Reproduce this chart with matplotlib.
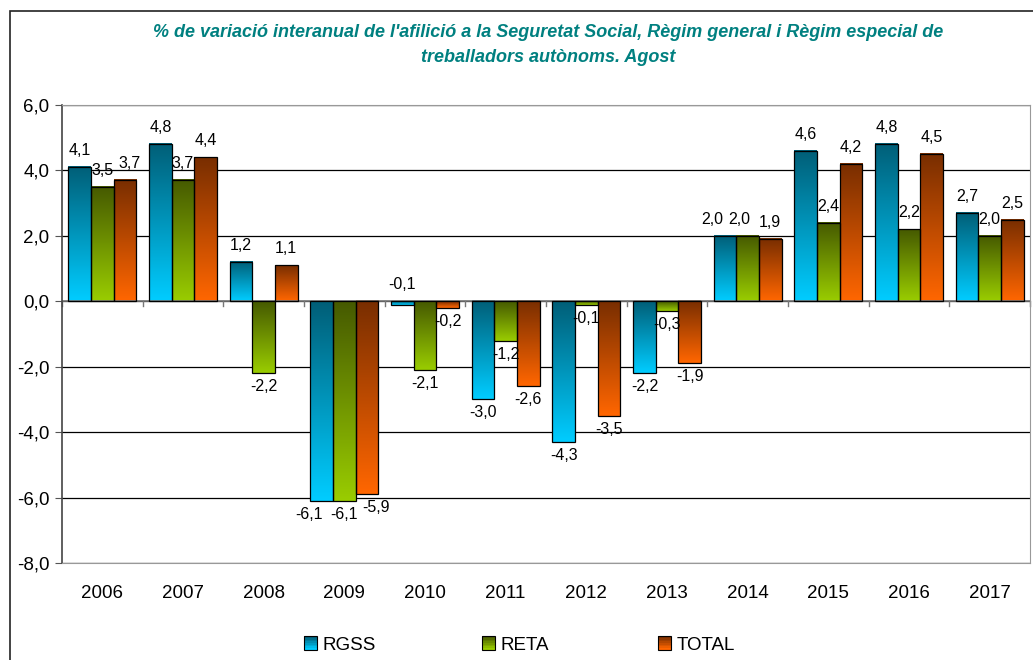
import matplotlib.pyplot as plt
import numpy as np
from matplotlib.colors import LinearSegmentedColormap
from matplotlib.legend_handler import HandlerBase
from matplotlib.patches import Rectangle

plt.rcParams["font.family"] = ["Liberation Sans", "DejaVu Sans"]

years = ["2006", "2007", "2008", "2009", "2010", "2011",
         "2012", "2013", "2014", "2015", "2016", "2017"]
rgss = [4.1, 4.8, 1.2, -6.1, -0.1, -3.0, -4.3, -2.2, 2.0, 4.6, 4.8, 2.7]
reta = [3.5, 3.7, -2.2, -6.1, -2.1, -1.2, -0.1, -0.3, 2.0, 2.4, 2.2, 2.0]
total = [3.7, 4.4, 1.1, -5.9, -0.2, -2.6, -3.5, -1.9, 1.9, 4.2, 4.5, 2.5]

series = [
    ("RGSS", rgss, ("#005f78", "#00ccff")),
    ("RETA", reta, ("#465a00", "#99cc00")),
    ("TOTAL", total, ("#792e00", "#ff6600")),
]

title = ("% de variació interanual de l'afilició a la Seguretat Social, "
         "Règim general i Règim especial de\ntreballadors autònoms. Agost")

# sideways nudges (pixels) for crowded data labels, as in the original
nudge = {("RGSS", "2009"): -13, ("TOTAL", "2009"): 9,
         ("RGSS", "2014"): -13, ("RETA", "2014"): -8,
         ("TOTAL", "2006"): 5}


def fmt(v):
    return f"{v:.1f}".replace(".", ",")


class GradientHandler(HandlerBase):
    def __init__(self, top, bottom):
        super().__init__()
        self.cmap = LinearSegmentedColormap.from_list("g", [bottom, top])

    def create_artists(self, legend, orig_handle, xdescent, ydescent,
                       width, height, fontsize, trans):
        side = height * 1.0
        x0 = -xdescent + (width - side) / 2
        y0 = -ydescent + (height - side) / 2
        arts = []
        n = 8
        for k in range(n):
            r = Rectangle((x0, y0 + side * k / n), side, side / n,
                          facecolor=self.cmap(k / (n - 1)), edgecolor="none",
                          transform=trans)
            arts.append(r)
        arts.append(Rectangle((x0, y0), side, side, facecolor="none",
                              edgecolor="black", lw=0.8, transform=trans))
        return arts


fig = plt.figure(figsize=(10.33, 6.6), dpi=100)
# outer chart frame
fig.add_artist(Rectangle((10 / 1033, -0.1), 1.2, 1 - 11 / 660 + 0.1,
                         transform=fig.transFigure, facecolor="none",
                         edgecolor="#222222", lw=1.2))

ax = fig.add_axes([62 / 1033, 1 - 563 / 660, (1030 - 62) / 1033,
                   (563 - 105) / 660])

x = np.arange(len(years))
w = 0.28
offsets = [-w, 0, w]
grad = np.linspace(0, 1, 64).reshape(-1, 1)

for (name, vals, (top_c, bot_c)), off in zip(series, offsets):
    cmap = LinearSegmentedColormap.from_list(name, [top_c, bot_c])
    for i, v in enumerate(vals):
        xc = x[i] + off
        lo, hi = min(0, v), max(0, v)
        ax.imshow(grad, extent=(xc - w / 2, xc + w / 2, lo, hi),
                  cmap=cmap, aspect="auto", zorder=2, interpolation="bicubic")
    ax.bar(x + off, vals, w, facecolor="none", edgecolor="black",
           lw=0.9, zorder=3)
    for i, v in enumerate(vals):
        dx = nudge.get((name, years[i]), 0)
        above = v >= 0 or (name == "RGSS" and years[i] == "2010")
        if above:
            ax.annotate(fmt(v), (x[i] + off, max(v, 0)), xytext=(dx, 9),
                        textcoords="offset pixels", ha="center",
                        va="bottom", fontsize=11.5, zorder=4)
        else:
            ax.annotate(fmt(v), (x[i] + off, v), xytext=(dx, -6),
                        textcoords="offset pixels", ha="center",
                        va="top", fontsize=11.5, zorder=4)

ax.set_xlim(-0.5, len(years) - 0.5)
ax.set_ylim(-8, 6)
ax.set_yticks(np.arange(-8, 7, 2))
ax.set_yticklabels([fmt(t) for t in np.arange(-8, 7, 2)], fontsize=13.5)
ax.yaxis.grid(True, color="black", lw=0.9)
ax.set_axisbelow(True)
ax.tick_params(axis="y", length=5, direction="out", color="#555555", pad=4)

# category labels and boundary ticks on the zero line
ax.set_xticks(x)
ax.set_xticklabels(years, fontsize=13.5)
ax.tick_params(axis="x", length=0, pad=16)
ax.axhline(0, color="#777777", lw=1.2, zorder=2.5)
for b in np.arange(-0.5, len(years), 1.0):
    ax.plot([b, b], [0, -0.15], color="#777777", lw=1, zorder=2.5,
            clip_on=False)

for s in ["top", "right", "bottom"]:
    ax.spines[s].set_color("#999999")
ax.spines["left"].set_color("#444444")
ax.spines["left"].set_linewidth(1.2)

fig.text(0.531, 1 - 45 / 660, title, ha="center", va="center",
         fontsize=13, fontweight="bold", style="italic", color="#008080",
         linespacing=1.6)

# one legend per entry so the spacing matches the original
legend_x = [303, 481, 657]
for (name, _, (top_c, bot_c)), lx in zip(series, legend_x):
    h = Rectangle((0, 0), 1, 1)
    fig.legend([h], [name], handler_map={h: GradientHandler(top_c, bot_c)},
               loc="center left", bbox_to_anchor=(lx / 1033, 1 - 645 / 660),
               frameon=False, fontsize=13.5, handlelength=0.8,
               handletextpad=0.25, borderpad=0, borderaxespad=0)

fig.savefig("out.png", dpi=100)
